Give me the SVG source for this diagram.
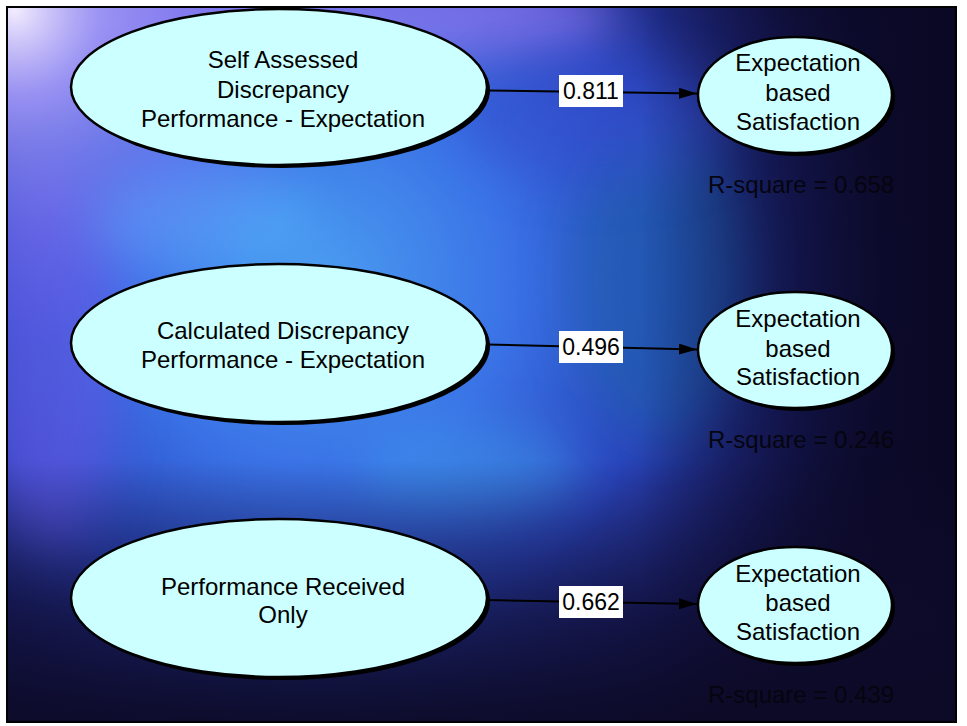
<svg xmlns="http://www.w3.org/2000/svg" width="967" height="726" viewBox="0 0 967 726">
<defs>
<radialGradient id="gMain" gradientUnits="userSpaceOnUse" cx="320" cy="280" r="640">
<stop offset="0" stop-color="#4a9cf0"/>
<stop offset="0.3" stop-color="#3a72e6"/>
<stop offset="0.55" stop-color="#2c48c4" stop-opacity="0.95"/>
<stop offset="0.8" stop-color="#1c2278" stop-opacity="0.65"/>
<stop offset="1" stop-color="#100c30" stop-opacity="0"/>
</radialGradient>
<radialGradient id="gTL" gradientUnits="userSpaceOnUse" cx="15" cy="10" r="340">
<stop offset="0" stop-color="#f2ecff"/>
<stop offset="0.25" stop-color="#b4a4ff" stop-opacity="0.8"/>
<stop offset="0.65" stop-color="#8a7cf5" stop-opacity="0.35"/>
<stop offset="1" stop-color="#7060f0" stop-opacity="0"/>
</radialGradient>
<linearGradient id="gRight" gradientUnits="userSpaceOnUse" x1="640" y1="0" x2="957" y2="0">
<stop offset="0" stop-color="#0b0928" stop-opacity="0"/>
<stop offset="0.5" stop-color="#0b0928" stop-opacity="0.55"/>
<stop offset="1" stop-color="#0a0824" stop-opacity="0.95"/>
</linearGradient>
<linearGradient id="gBottom" gradientUnits="userSpaceOnUse" x1="0" y1="460" x2="0" y2="722">
<stop offset="0" stop-color="#0e0b2c" stop-opacity="0"/>
<stop offset="0.6" stop-color="#0e0b2c" stop-opacity="0.65"/>
<stop offset="1" stop-color="#0c0a26" stop-opacity="0.92"/>
</linearGradient>
<filter id="blur" x="-50%" y="-50%" width="200%" height="200%"><feGaussianBlur stdDeviation="25"/></filter>
<clipPath id="frame"><rect x="7" y="7" width="949" height="715"/></clipPath>
<marker id="arr" markerUnits="userSpaceOnUse" markerWidth="20" markerHeight="12" refX="18" refY="5.5" orient="auto">
<path d="M0,0 L18,5.5 L0,11 Z" fill="#000"/>
</marker>
</defs>
<style>
.bigE{fill:#ccffff;stroke:#000;stroke-width:2.5}
.shadow{fill:#000}
.t{font-family:"Liberation Sans",Arial,sans-serif;font-size:24px;fill:#000;text-anchor:middle}
.rs{font-family:"Liberation Sans",Arial,sans-serif;font-size:24px;fill:#050510}
.lbl{font-family:"Liberation Sans",Arial,sans-serif;font-size:23px;fill:#000;text-anchor:middle}
.box{fill:#fff}
.edge{stroke:#000;stroke-width:2;fill:none}
</style>
<rect x="0" y="0" width="967" height="726" fill="#fff"/>
<g id="background" clip-path="url(#frame)">
<rect x="7" y="7" width="949" height="715" fill="#0e0c2e"/>
<rect x="7" y="7" width="949" height="715" fill="url(#gMain)"/>
<ellipse cx="360" cy="15" rx="260" ry="50" fill="#b088ff" opacity="0.55" filter="url(#blur)"/>
<ellipse cx="50" cy="360" rx="70" ry="200" fill="#6a5ae8" opacity="0.55" filter="url(#blur)"/>
<ellipse cx="200" cy="220" rx="110" ry="50" fill="#5cc0ff" opacity="0.4" filter="url(#blur)"/>
<ellipse cx="470" cy="470" rx="110" ry="45" fill="#3fa8f0" opacity="0.4" filter="url(#blur)"/>
<ellipse cx="660" cy="280" rx="90" ry="160" fill="#1c62a8" opacity="0.55" filter="url(#blur)"/>
<ellipse cx="600" cy="120" rx="140" ry="60" fill="#3550d0" opacity="0.5" filter="url(#blur)"/>
<rect x="7" y="7" width="949" height="715" fill="url(#gTL)"/>
<rect x="7" y="7" width="949" height="715" fill="url(#gRight)"/>
<rect x="7" y="7" width="949" height="715" fill="url(#gBottom)"/>
</g>
<rect x="7" y="7" width="949" height="715" fill="none" stroke="#000" stroke-width="2"/>
<g id="connectors">
<line class="edge" x1="487" y1="90.5" x2="697" y2="93.5" marker-end="url(#arr)"/>
<line class="edge" x1="487" y1="344.5" x2="697" y2="349.5" marker-end="url(#arr)"/>
<line class="edge" x1="487" y1="600" x2="697" y2="604" marker-end="url(#arr)"/>
<rect class="box" x="559" y="75" width="64" height="32"/>
<text class="lbl" x="591" y="99">0.811</text>
<rect class="box" x="559" y="331" width="64" height="32"/>
<text class="lbl" x="591" y="355">0.496</text>
<rect class="box" x="559" y="586" width="64" height="32"/>
<text class="lbl" x="591" y="610">0.662</text>
</g>
<g id="self-assessed">
<ellipse class="shadow" cx="282" cy="90" rx="208" ry="78"/>
<ellipse class="bigE" cx="279" cy="87" rx="208" ry="78"/>
<text class="t" x="283" y="68">Self Assessed</text>
<text class="t" x="283" y="98">Discrepancy</text>
<text class="t" x="283" y="127">Performance - Expectation</text>
</g>
<g id="calculated">
<ellipse class="shadow" cx="282" cy="346" rx="208" ry="79"/>
<ellipse class="bigE" cx="279" cy="343" rx="208" ry="79"/>
<text class="t" x="283" y="339">Calculated Discrepancy</text>
<text class="t" x="283" y="368">Performance - Expectation</text>
</g>
<g id="performance-only">
<ellipse class="shadow" cx="282" cy="601" rx="208" ry="79"/>
<ellipse class="bigE" cx="279" cy="598" rx="208" ry="79"/>
<text class="t" x="283" y="595">Performance Received</text>
<text class="t" x="283" y="623">Only</text>
</g>
<g id="satisfaction-1">
<ellipse class="shadow" cx="798" cy="98" rx="97" ry="58"/>
<ellipse class="bigE" cx="795" cy="95" rx="97" ry="58"/>
<text class="t" x="798" y="71">Expectation</text>
<text class="t" x="798" y="101">based</text>
<text class="t" x="798" y="130">Satisfaction</text>
<text class="rs" x="708" y="193">R-square = 0.658</text>
</g>
<g id="satisfaction-2">
<ellipse class="shadow" cx="798" cy="353" rx="97" ry="58"/>
<ellipse class="bigE" cx="795" cy="350" rx="97" ry="58"/>
<text class="t" x="798" y="327">Expectation</text>
<text class="t" x="798" y="357">based</text>
<text class="t" x="798" y="385">Satisfaction</text>
<text class="rs" x="708" y="448">R-square = 0.246</text>
</g>
<g id="satisfaction-3">
<ellipse class="shadow" cx="798" cy="608" rx="97" ry="58"/>
<ellipse class="bigE" cx="795" cy="605" rx="97" ry="58"/>
<text class="t" x="798" y="582">Expectation</text>
<text class="t" x="798" y="611">based</text>
<text class="t" x="798" y="640">Satisfaction</text>
<text class="rs" x="708" y="703">R-square = 0.439</text>
</g>
</svg>
